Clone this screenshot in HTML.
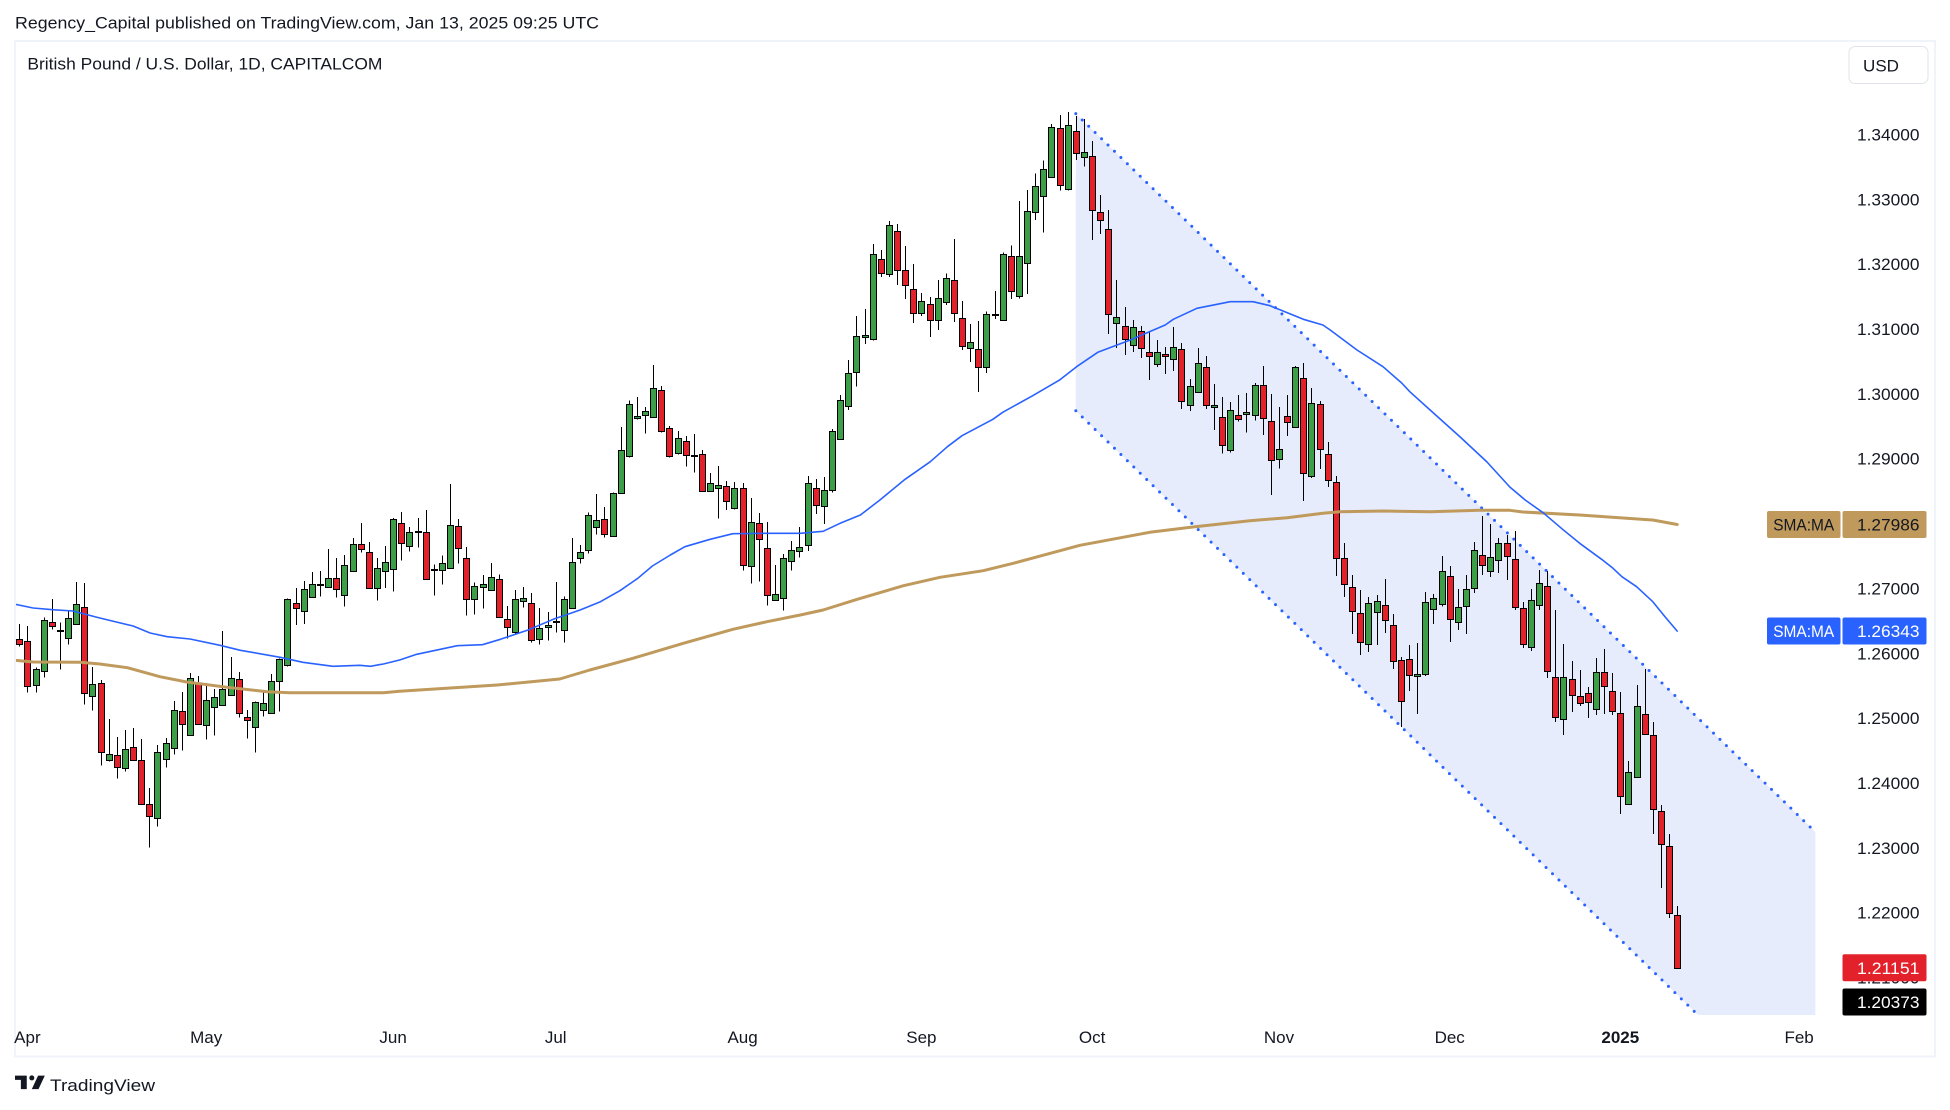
<!DOCTYPE html>
<html lang="en">
<head>
<meta charset="utf-8">
<title>British Pound / U.S. Dollar, 1D, CAPITALCOM</title>
<style>
html,body{margin:0;padding:0;background:#fff;width:1950px;height:1110px;overflow:hidden}
svg{display:block}
text{font-family:"Liberation Sans",sans-serif;fill:#131722;font-size:17px}
</style>
</head>
<body>
<svg id="chart" xmlns="http://www.w3.org/2000/svg" width="1950" height="1110" viewBox="0 0 1950 1110">
  <defs>
    <clipPath id="pane-clip"><rect x="16" y="42" width="1827" height="973"/></clipPath>
  </defs>
  <rect x="0" y="0" width="1950" height="1110" fill="#ffffff"/>
  <text x="15" y="28.5" textLength="584" lengthAdjust="spacingAndGlyphs">Regency_Capital published on TradingView.com, Jan 13, 2025 09:25 UTC</text>
  <rect x="15" y="41" width="1920" height="1015.5" fill="none" stroke="#f0f3fa" stroke-width="2"/>
  <text x="27.4" y="69.5" textLength="355" lengthAdjust="spacingAndGlyphs">British Pound / U.S. Dollar, 1D, CAPITALCOM</text>
  <g>
    <rect x="1849" y="46.5" width="79" height="37" rx="6" fill="#ffffff" stroke="#e0e3eb" stroke-width="1"/>
    <text x="1881" y="71.5" text-anchor="middle" font-size="18">USD</text>
  </g>
  <g id="pane" clip-path="url(#pane-clip)">
    <polygon id="channel-fill" fill="#e6ecfc"/>
    <line id="channel-upper" stroke="#2962ff" stroke-width="3" stroke-linecap="round" stroke-dasharray="0 8.98"/>
    <line id="channel-lower" stroke="#2962ff" stroke-width="3" stroke-linecap="round" stroke-dasharray="0 8.98"/>
    <g id="candles"></g>
    <polyline id="sma-slow" fill="none" stroke="#bf9a5c" stroke-width="3" stroke-linejoin="round" stroke-linecap="round"/>
    <polyline id="sma-fast" fill="none" stroke="#2962ff" stroke-width="1.6" stroke-linejoin="round" stroke-linecap="round"/>
  </g>
  <g id="y-ticks"></g>
  <g id="x-ticks"></g>
  <g id="value-labels"></g>
  <g>
    <g transform="translate(15 1070.6) scale(0.84)">
      <path d="M14 6H0v5h7v11h7V6zM28 22h-8l7.5-16h8L28 22z" fill="#131722"/>
      <circle cx="20" cy="8.7" r="3" fill="#131722"/>
    </g>
    <text x="50" y="1091" font-size="20" textLength="105" lengthAdjust="spacingAndGlyphs">TradingView</text>
  </g>
</svg>
<script>
const barOpens=[
1.26216,1.26185,1.25507,1.25722,1.26478,1.26350,1.26231,1.26447,1.26709,1.25337,
1.25537,1.24350,1.24427,1.24227,1.24551,1.24350,1.23672,1.23456,1.24365,1.24535,
1.25106,1.24736,1.25537,1.24890,1.25167,1.25198,1.25352,1.25599,1.25013,1.24859,
1.25121,1.25075,1.25568,1.25815,1.26771,1.26648,1.26864,1.27064,1.27018,1.27156,
1.26894,1.27264,1.27681,1.27557,1.27002,1.27264,1.27295,1.28004,1.27650,1.27881,
1.27865,1.27279,1.27279,1.27310,1.27958,1.27464,1.26832,1.27017,1.26971,1.27141,
1.26524,1.26323,1.26801,1.26771,1.26215,1.26401,1.26488,1.26354,1.26693,1.27464,
1.27588,1.27943,1.28066,1.27804,1.28467,1.29037,1.29623,1.29670,1.29639,1.30055,
1.29469,1.29084,1.29269,1.29048,1.29068,1.28498,1.28544,1.28575,1.28235,1.28544,
1.27341,1.28004,1.27619,1.26817,1.26848,1.27418,1.27572,1.27665,1.28544,1.28266,
1.28513,1.29299,1.29808,1.30332,1.30872,1.30841,1.32075,1.31844,1.32507,1.31905,
1.31612,1.31242,1.31381,1.31134,1.31412,1.31751,1.31165,1.30702,1.30687,1.30410,
1.31222,1.31134,1.32121,1.31504,1.32013,1.32800,1.33047,1.33340,1.34095,1.33154,
1.34049,1.33648,1.33663,1.32800,1.32538,1.31088,1.31042,1.30749,1.30965,1.30641,
1.30456,1.30610,1.30533,1.30687,1.29824,1.30024,1.30410,1.29793,1.29639,1.29130,
1.29670,1.29685,1.29670,1.30132,1.29577,1.28991,1.29654,1.29485,1.30240,1.28729,
1.29839,1.29068,1.28636,1.27464,1.27017,1.26616,1.26138,1.26632,1.26740,1.26431,
1.25892,1.25907,1.25645,1.25676,1.26678,1.26755,1.27187,1.26478,1.26724,1.27002,
1.27511,1.27264,1.27434,1.27696,1.27449,1.26693,1.26092,1.26740,1.27033,1.25630,
1.24982,1.25599,1.25337,1.25383,1.25136,1.25707,1.25414,1.25074,1.23671,1.24088,
1.25059,1.24735,1.23563,1.23024,1.21960];
const barHighs=[
1.26452,1.26421,1.25784,1.26555,1.26838,1.26478,1.26642,1.27100,1.27085,1.25789,
1.25589,1.24987,1.24710,1.24818,1.24849,1.24679,1.23923,1.24586,1.24694,1.25265,
1.25404,1.25697,1.25650,1.25496,1.25450,1.26344,1.25943,1.25712,1.25126,1.25260,
1.25404,1.25681,1.25923,1.26843,1.27007,1.27115,1.27254,1.27270,1.27609,1.27470,
1.27516,1.27778,1.28010,1.27717,1.27470,1.27655,1.28087,1.28179,1.27948,1.28086,
1.28210,1.27372,1.27511,1.28611,1.28071,1.27639,1.27094,1.27207,1.27393,1.27218,
1.26729,1.26976,1.27022,1.26930,1.26699,1.26637,1.27100,1.26879,1.27778,1.27670,
1.28174,1.28457,1.28256,1.28482,1.29490,1.29901,1.29952,1.29798,1.30446,1.30122,
1.29505,1.29428,1.29351,1.29382,1.29135,1.28780,1.28888,1.28657,1.28642,1.28626,
1.28395,1.28164,1.28025,1.27362,1.27531,1.27732,1.27947,1.28734,1.28688,1.28718,
1.29459,1.29983,1.30523,1.31201,1.31309,1.32311,1.32219,1.32666,1.32620,1.32280,
1.32003,1.31556,1.31494,1.31756,1.31859,1.32388,1.31432,1.31078,1.31124,1.31273,
1.31587,1.32183,1.32291,1.32974,1.33144,1.33401,1.33602,1.34162,1.34301,1.34347,
1.34285,1.34239,1.33900,1.33067,1.32836,1.31756,1.31340,1.31140,1.31047,1.30949,
1.30831,1.30723,1.31032,1.30785,1.30230,1.30708,1.30584,1.30153,1.29952,1.29875,
1.29983,1.30014,1.30168,1.30430,1.29999,1.29798,1.29983,1.30430,1.30477,1.30091,
1.29891,1.29258,1.28734,1.27701,1.27207,1.26976,1.26868,1.26899,1.27146,1.26606,
1.25943,1.26128,1.26159,1.26945,1.26915,1.27500,1.27346,1.26992,1.27207,1.27716,
1.28117,1.27994,1.27778,1.27824,1.27886,1.26791,1.26992,1.27285,1.27269,1.26668,
1.26144,1.25881,1.25743,1.25480,1.25928,1.26066,1.25696,1.25403,1.24339,1.25511,
1.25758,1.24941,1.23661,1.23214,1.22103];
const barLows=[
1.26103,1.25393,1.25393,1.25630,1.26365,1.25748,1.26134,1.26447,1.25208,1.25116,
1.24268,1.24329,1.24067,1.24175,1.24350,1.23672,1.23003,1.23327,1.24237,1.24437,
1.24499,1.24736,1.24905,1.24669,1.24730,1.25198,1.25352,1.25013,1.24684,1.24468,
1.25023,1.25075,1.25100,1.25794,1.26437,1.26452,1.26864,1.26874,1.27018,1.26858,
1.26720,1.27264,1.27552,1.27002,1.26812,1.27007,1.26951,1.27429,1.27567,1.27629,
1.27141,1.26889,1.27058,1.27310,1.27382,1.26580,1.26596,1.26688,1.26971,1.26555,
1.26231,1.26293,1.26704,1.26169,1.26138,1.26195,1.26318,1.26169,1.26693,1.27382,
1.27542,1.27829,1.27788,1.27804,1.28467,1.29022,1.29608,1.29392,1.29639,1.29407,
1.29022,1.29063,1.28878,1.28791,1.28498,1.28498,1.28076,1.28210,1.28215,1.27274,
1.27079,1.27105,1.26735,1.26817,1.26658,1.27274,1.27475,1.27577,1.28148,1.27994,
1.28482,1.29299,1.29752,1.30111,1.30769,1.30821,1.31802,1.31802,1.31679,1.31463,
1.31093,1.31201,1.30877,1.30985,1.31371,1.31109,1.30677,1.30492,1.30029,1.30322,
1.31155,1.31134,1.31463,1.31473,1.31540,1.32682,1.32486,1.33340,1.33134,1.33134,
1.33607,1.33504,1.32373,1.32466,1.30924,1.30708,1.30600,1.30646,1.30554,1.30214,
1.30415,1.30307,1.30353,1.29767,1.29736,1.30024,1.29767,1.29443,1.29078,1.29094,
1.29572,1.29402,1.29587,1.29366,1.28441,1.28847,1.29351,1.29485,1.28349,1.28703,
1.28842,1.28564,1.27192,1.26868,1.26298,1.25974,1.26020,1.26128,1.26313,1.25758,
1.24864,1.25419,1.25064,1.25650,1.26452,1.26719,1.26174,1.26359,1.26298,1.26930,
1.27207,1.27177,1.27238,1.27130,1.26668,1.26082,1.26036,1.26668,1.25619,1.24941,
1.24740,1.25095,1.25187,1.25002,1.25049,1.25064,1.25049,1.23522,1.23671,1.24088,
1.24751,1.23214,1.22381,1.21918,1.21142];
const barCloses=[
1.26139,1.25491,1.25753,1.26509,1.26416,1.26360,1.26540,1.26756,1.25383,1.25522,
1.24473,1.24443,1.24242,1.24520,1.24350,1.23672,1.23487,1.24473,1.24612,1.25121,
1.24905,1.25614,1.24905,1.25275,1.25322,1.25445,1.25614,1.25075,1.24967,1.25244,
1.25229,1.25568,1.25907,1.26843,1.26694,1.26987,1.27064,1.27074,1.27156,1.26987,
1.27357,1.27681,1.27604,1.27002,1.27311,1.27403,1.28066,1.27696,1.27865,1.27891,
1.27141,1.27295,1.27387,1.27973,1.27619,1.26832,1.27033,1.27064,1.27172,1.26555,
1.26401,1.26832,1.26848,1.26200,1.26385,1.26431,1.26498,1.26832,1.27403,1.27557,
1.28128,1.28050,1.27835,1.28467,1.29130,1.29839,1.29654,1.29731,1.30086,1.29423,
1.29037,1.29315,1.29053,1.29058,1.28498,1.28621,1.28590,1.28343,1.28544,1.27357,
1.28020,1.27757,1.26894,1.26909,1.27464,1.27588,1.27634,1.28621,1.28282,1.28513,
1.29423,1.29901,1.30317,1.30888,1.30903,1.32152,1.31859,1.32599,1.31905,1.31674,
1.31242,1.31427,1.31134,1.31473,1.31782,1.31242,1.30733,1.30795,1.30410,1.31227,
1.31232,1.32152,1.31581,1.32121,1.32815,1.33201,1.33463,1.34111,1.33216,1.34141,
1.33710,1.33725,1.32831,1.32676,1.31227,1.31181,1.30841,1.31027,1.30703,1.30579,
1.30641,1.30579,1.30718,1.29885,1.30117,1.30471,1.29824,1.29824,1.29207,1.29747,
1.29608,1.29716,1.30132,1.29623,1.28976,1.29145,1.29562,1.30410,1.28775,1.29855,
1.29145,1.28667,1.27464,1.27064,1.26647,1.26169,1.26771,1.26801,1.26508,1.25876,
1.25259,1.25660,1.25676,1.26786,1.26848,1.27264,1.26524,1.26709,1.26986,1.27588,
1.27357,1.27480,1.27696,1.27495,1.26709,1.26138,1.26817,1.27079,1.25722,1.25013,
1.25630,1.25352,1.25229,1.25244,1.25707,1.25491,1.25105,1.23795,1.24165,1.25182,
1.24751,1.23594,1.23054,1.21990,1.21151];

const smaFastBars=[-0.5,1.7,4.1,6.6,9.9,14,16.1,18.2,21,24.7,27.2,32.1,34.9,38.6,41.9,43.2,44.8,46.8,48.9,53.9,57,59.2,62.6,65.7,69,71.5,73.9,76.1,77.9,80.1,81.9,85,87.8,92,96.1,98.9,101,103.5,105.9,109,112.1,114.2,116,119.8,121,124.7,128,130.1,132.7,136.7,141,142,144.9,149,151.8,153.9,158,160.4,161.3,164.6,167.8,170.1,171.1,173.6,177.3,180.6,183.4,185.3,187.5,189.9,192,194.7,196.1,197.2,199,201,202.5,204];
const smaFastValues=[1.26756,1.26699,1.26672,1.26652,1.26544,1.26421,1.26313,1.26256,1.26220,1.26123,1.26046,1.25938,1.25861,1.25800,1.25815,1.25800,1.25835,1.25897,1.25985,1.26117,1.26133,1.26216,1.26359,1.26524,1.26668,1.26796,1.26965,1.27157,1.27346,1.27516,1.27644,1.27758,1.27844,1.27850,1.27850,1.27881,1.28005,1.28133,1.28364,1.28683,1.28954,1.29186,1.29355,1.29608,1.29716,1.29972,1.30214,1.30419,1.30642,1.30831,1.31062,1.31150,1.31320,1.31422,1.31422,1.31360,1.31150,1.31062,1.30985,1.30677,1.30419,1.30168,1.30034,1.29752,1.29335,1.28950,1.28564,1.28364,1.28168,1.27912,1.27696,1.27450,1.27311,1.27181,1.27027,1.26796,1.26564,1.26343];
const smaSlowBars=[-0.5,1.7,7.5,9.9,13.3,17.3,20.6,25.6,30.5,33.3,44.8,46.8,58.8,66.5,70.2,75.5,81.7,87.8,92,96.1,98.9,103.1,108.8,113.3,118.6,122.3,130.5,139.1,144.4,151.4,156,160.4,162.5,167.8,173.6,179.7,183.4,185,192,197.8,201,204];
const smaSlowValues=[1.25892,1.25866,1.25861,1.25835,1.25778,1.25639,1.25557,1.25476,1.25408,1.25392,1.25392,1.25414,1.25511,1.25604,1.25742,1.25923,1.26154,1.26370,1.26487,1.26591,1.26668,1.26833,1.27042,1.27172,1.27274,1.27388,1.27665,1.27866,1.27948,1.28045,1.28091,1.28159,1.28183,1.28194,1.28183,1.28205,1.28205,1.28179,1.28133,1.28082,1.28055,1.27986];

const priceTicks=[1.34,1.33,1.32,1.31,1.30,1.29,1.28,1.27,1.26,1.25,1.24,1.23,1.22,1.21];
const monthLabels=["Apr","May","Jun","Jul","Aug","Sep","Oct","Nov","Dec","2025","Feb"];
const monthBars=[1,23,46,66,89,111,132,155,176,197,219];

const channelBars=[130,221];
const channelUpper=[1.34321,1.23244];
const channelLower=[1.29741,1.18664];

const lastClose=barCloses[barCloses.length-1];
const countdownPrice=1.20373;

const BAR_ORIGIN=19.3, BAR_STEP=8.127, PRICE_AT_REF=1.22, Y_AT_REF=912.7, PX_PER_PRICE=6485;
function xScale(bar){return BAR_ORIGIN+BAR_STEP*bar;}
function yScale(price){return Y_AT_REF-(price-PRICE_AT_REF)*PX_PER_PRICE;}

const SVG_NS='http://www.w3.org/2000/svg';
function make(tag,attrs,parent){
  const el=document.createElementNS(SVG_NS,tag);
  for(const k in attrs){el.setAttribute(k,attrs[k]);}
  parent.appendChild(el);
  return el;
}
function linePoints(bars,values){
  return bars.map(function(b,i){return xScale(b).toFixed(1)+','+yScale(values[i]).toFixed(1);}).join(' ');
}

/* channel */
const cf=document.getElementById('channel-fill');
cf.setAttribute('points',[
  [xScale(channelBars[0]),yScale(channelUpper[0])],
  [xScale(channelBars[1]),yScale(channelUpper[1])],
  [xScale(channelBars[1]),yScale(channelLower[1])],
  [xScale(channelBars[0]),yScale(channelLower[0])]
].map(function(p){return p[0].toFixed(1)+','+p[1].toFixed(1);}).join(' '));
const cu=document.getElementById('channel-upper');
cu.setAttribute('x1',xScale(channelBars[0]));
cu.setAttribute('y1',yScale(channelUpper[0]));
cu.setAttribute('x2',xScale(channelBars[1]));
cu.setAttribute('y2',yScale(channelUpper[1]));
const cl=document.getElementById('channel-lower');
cl.setAttribute('x1',xScale(channelBars[0]));
cl.setAttribute('y1',yScale(channelLower[0]));
cl.setAttribute('x2',xScale(channelBars[1]));
cl.setAttribute('y2',yScale(channelLower[1]));

/* candles */
const candleLayer=document.getElementById('candles');
barOpens.forEach(function(open,i){
  const close=barCloses[i];
  const up=close>=open;
  const px=Math.round(xScale(i))+0.5;
  const g=make('g',{'shape-rendering':'crispEdges'},candleLayer);
  
  
  const wick=make('line',{x1:px,x2:px,y1:yScale(barHighs[i]).toFixed(1),y2:yScale(barLows[i]).toFixed(1),stroke:'#000',"stroke-width":1},g);
  
  
  const top=yScale(Math.max(open,close));
  const bottom=yScale(Math.min(open,close));
  const body=make('rect',{x:px-3,width:6,y:Math.round(top)+0.5,height:Math.max(1,Math.round(bottom)-Math.round(top)),fill:up?'#3c9e46':'#e3212b',stroke:'#000',"stroke-width":1},g);
  
  
});

/* moving averages */
document.getElementById('sma-slow').setAttribute('points',linePoints(smaSlowBars,smaSlowValues));
document.getElementById('sma-fast').setAttribute('points',linePoints(smaFastBars,smaFastValues));

/* price axis */
const yTicks=document.getElementById('y-ticks');
priceTicks.forEach(function(p){
  const t=make('text',{x:1919.5,y:(yScale(p)+6).toFixed(1),'text-anchor':'end',textLength:62.5,lengthAdjust:'spacingAndGlyphs'},yTicks);
  
  
  t.textContent=p.toFixed(5);
});

/* time axis */
const xTicks=document.getElementById('x-ticks');
monthLabels.forEach(function(label,i){
  const t=make('text',{x:xScale(monthBars[i]).toFixed(1),y:1043,'text-anchor':'middle','font-weight':label==='2025'?'700':'400'},xTicks);
  
  
  t.textContent=label;
});

/* value labels */
const valueLabels=document.getElementById('value-labels');
function drawValueLabel(price,cy,fill,textFill,withName){
  if(withName){
    const nameBox=make('rect',{x:1767,y:cy-13.5,width:73.5,height:27,rx:2,fill:fill},valueLabels);
    
    
    const nameText=make('text',{x:1803.7,y:cy+6,'text-anchor':'middle',textLength:61,lengthAdjust:'spacingAndGlyphs',style:'fill:'+textFill},valueLabels);
    
    
    nameText.textContent='SMA:MA';
  }
  const box=make('rect',{x:1842.5,y:cy-13.5,width:84,height:27,rx:2,fill:fill},valueLabels);
  
  
  const txt=make('text',{x:1919.5,y:cy+6,'text-anchor':'end',textLength:62.5,lengthAdjust:'spacingAndGlyphs',style:'fill:'+textFill},valueLabels);
  
  
  txt.textContent=price.toFixed(5);
}
drawValueLabel(smaSlowValues[smaSlowValues.length-1],yScale(smaSlowValues[smaSlowValues.length-1]),'#bf9a5c','#131722',true);
drawValueLabel(smaFastValues[smaFastValues.length-1],yScale(smaFastValues[smaFastValues.length-1]),'#2962ff','#ffffff',true);
drawValueLabel(lastClose,yScale(lastClose),'#e3212b','#ffffff',false);
drawValueLabel(countdownPrice,Math.min(yScale(countdownPrice),1002),'#000000','#ffffff',false);
</script>
</body>
</html>
